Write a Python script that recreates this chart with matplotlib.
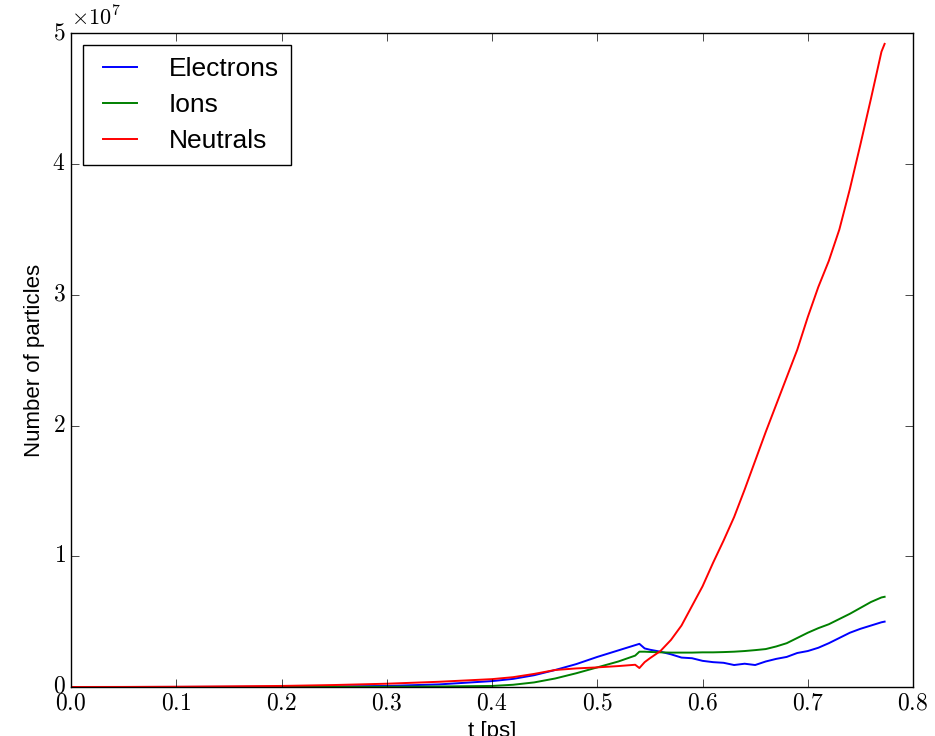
import matplotlib
matplotlib.use("Agg")
import matplotlib.pyplot as plt
from matplotlib.ticker import FuncFormatter

# time axis [ps]
t = [0.00, 0.05, 0.10, 0.15, 0.20, 0.25, 0.30, 0.35, 0.40, 0.42, 0.44, 0.46,
     0.48, 0.50, 0.52, 0.536, 0.540, 0.545, 0.55, 0.56, 0.57, 0.58, 0.59,
     0.60, 0.61, 0.62, 0.63, 0.64, 0.65, 0.66, 0.67, 0.68, 0.69, 0.70, 0.71,
     0.72, 0.73, 0.74, 0.75, 0.76, 0.77, 0.773]

# particle counts in millions
electrons = [0.0, 0.0, 0.005, 0.01, 0.02, 0.04, 0.08, 0.2, 0.45, 0.62, 0.9, 1.3,
             1.75, 2.3, 2.8, 3.2, 3.3, 2.95, 2.85, 2.7, 2.5, 2.25, 2.2,
             2.0, 1.9, 1.85, 1.68, 1.78, 1.68, 1.95, 2.15, 2.3, 2.6, 2.75, 3.0,
             3.35, 3.75, 4.15, 4.45, 4.7, 4.95, 5.0]
ions = [0.0, 0.0, 0.0, 0.0, 0.005, 0.01, 0.02, 0.04, 0.08, 0.17, 0.35, 0.65,
        1.05, 1.5, 1.95, 2.4, 2.7, 2.7, 2.68, 2.65, 2.63, 2.63, 2.63,
        2.65, 2.65, 2.67, 2.7, 2.75, 2.82, 2.9, 3.1, 3.35, 3.75, 4.15, 4.5,
        4.8, 5.2, 5.6, 6.05, 6.5, 6.85, 6.9]
neutrals = [0.0, 0.005, 0.02, 0.05, 0.08, 0.15, 0.25, 0.4, 0.6, 0.75, 1.0, 1.3,
            1.42, 1.5, 1.6, 1.7, 1.45, 1.9, 2.2, 2.75, 3.6, 4.7, 6.2,
            7.7, 9.5, 11.2, 13.0, 15.1, 17.3, 19.5, 21.6, 23.7, 25.8, 28.3, 30.6,
            32.6, 35.0, 38.1, 41.5, 45.0, 48.6, 49.2]

plt.style.use("classic")
plt.rcParams["font.family"] = ["Liberation Sans", "DejaVu Sans"]
plt.rcParams["mathtext.fontset"] = "cm"

fig = plt.figure(figsize=(9.35, 7.36), dpi=100, facecolor="white")
ax = fig.add_axes([0.076, 0.0666, 0.9005, 0.888])

ax.plot(t, [v * 1e6 for v in electrons], color="b", lw=1.4, label="Electrons")
ax.plot(t, [v * 1e6 for v in ions], color="g", lw=1.4, label="Ions")
ax.plot(t, [v * 1e6 for v in neutrals], color="r", lw=1.4, label="Neutrals")

ax.set_xlim(0, 0.8)
ax.set_ylim(0, 5e7)
# serif (computer modern) tick labels like the old mathtext look
ax.xaxis.set_major_formatter(FuncFormatter(lambda v, p: f"${v:.1f}$"))
ax.yaxis.set_major_formatter(FuncFormatter(lambda v, p: f"${v / 1e7:g}$"))
ax.tick_params(labelsize=17, length=6, direction="in")
ax.text(0.0, 1.005, r"$\times10^{7}$", transform=ax.transAxes,
        fontsize=16, ha="left", va="bottom")

ax.set_xlabel("t [ps]", fontsize=16)
ax.set_ylabel("Number of particles", fontsize=16)

leg = ax.legend(loc="upper left", fontsize=19, fancybox=False,
                handlelength=1.9, handletextpad=0.9, labelspacing=0.45,
                borderpad=0.45, borderaxespad=0.45)
leg.get_frame().set_edgecolor("black")

fig.savefig("out.png", dpi=100, facecolor="white")
